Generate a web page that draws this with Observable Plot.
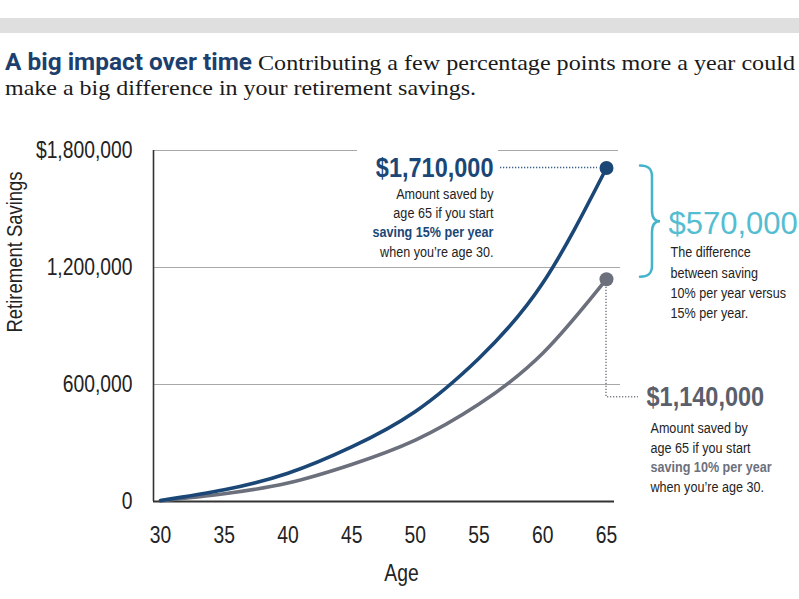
<!DOCTYPE html>
<html><head><meta charset="utf-8">
<script src="https://cdn.jsdelivr.net/npm/d3@7"></script>
<script src="https://cdn.jsdelivr.net/npm/@observablehq/plot@0.6"></script>
<style>
html,body{margin:0;padding:0;background:#fff;width:799px;height:599px;overflow:hidden}
svg{display:block}
</style></head><body>
<svg id="header" width="799" height="120"></svg>
<div id="chart"></div>
<script>
// ---- data ----
const ages = [30, 35, 40, 45, 50, 55, 60, 65];
const savings15 = [5000, 60000, 145000, 280000, 462000, 735000, 1120000, 1710000];
const savings10 = [3000, 40000, 95000, 190000, 315000, 500000, 760000, 1140000];
const xTicks = [30, 35, 40, 45, 50, 55, 60, 65];
const yTicks = [0, 600000, 1200000, 1800000];
const yTickLabels = ["0", "600,000", "1,200,000", "$1,800,000"];
const final15 = 1710000, final10 = 1140000, difference = 570000;
const titleBold = "A big impact over time";
const titleLine1 = "Contributing a few percentage points more a year could";
const titleLine2 = "make a big difference in your retirement savings.";
const hiNotes = ["Amount saved by", "age 65 if you start", "saving 15% per year", "when you\u2019re age 30."];
const loNotes = ["Amount saved by", "age 65 if you start", "saving 10% per year", "when you\u2019re age 30."];
const diffNotes = ["The difference", "between saving", "10% per year versus", "15% per year."];

const NAVY = "#1b4777", GRAY = "#6c707c", CYAN = "#44b4cb", TXT = "#232323";

// ---- header ----
const hdr = d3.select("#header");
hdr.append("rect").attr("x", 0).attr("y", 18).attr("width", 799).attr("height", 15).attr("fill", "#dfdfdf");
hdr.append("text").attr("x", 5).attr("y", 70).attr("font-family", "Roboto, 'Liberation Sans', sans-serif")
  .attr("font-weight", 700).attr("font-size", 23).attr("fill", "#1d3f6e")
  .attr("textLength", 247).attr("lengthAdjust", "spacingAndGlyphs").text(titleBold);
hdr.append("text").attr("x", 258).attr("y", 70).attr("font-family", "'Liberation Serif', 'DejaVu Serif', serif")
  .attr("font-size", 22).attr("fill", "#1a1a1a")
  .attr("textLength", 537).attr("lengthAdjust", "spacingAndGlyphs").text(titleLine1);
hdr.append("text").attr("x", 5).attr("y", 95).attr("font-family", "'Liberation Serif', 'DejaVu Serif', serif")
  .attr("font-size", 22).attr("fill", "#1a1a1a")
  .attr("textLength", 471).attr("lengthAdjust", "spacingAndGlyphs").text(titleLine2);

// ---- chart ----
const rows15 = ages.map((a, i) => ({age: a, value: savings15[i]}));
const rows10 = ages.map((a, i) => ({age: a, value: savings10[i]}));
const ends = [{age: 65, value: final15, c: NAVY}, {age: 65, value: final10, c: GRAY}];
const X0 = 29.45, X1 = 66.1;
const topGrid = [{x1: X0, x2: 45.46}, {x1: 56.53, x2: 65.94}];
const mid = (final15 + final10) / 2;

function decorations(index, {x, y}) {
  const g = d3.create("svg:g").attr("fill", "none");
  const X = x(65), yH = y(final15), yL = y(final10);
  g.append("path").attr("d", `M${X - 106},${yH}H${X - 9}`)
    .attr("stroke", "#3a5f8a").attr("stroke-width", 1.6).attr("stroke-dasharray", "1.3,1.7");
  g.append("path").attr("d", `M${X},${yL + 8}V${yL + 118}H${X + 32}`)
    .attr("stroke", "#80848e").attr("stroke-width", 1.6).attr("stroke-dasharray", "1.3,1.7");
  const top = yH - 2, bot = yL - 2, m = (top + bot) / 2, L = X + 34, S = X + 46, T = X + 54;
  g.append("path").attr("d",
    `M${L},${top}C${L + 8},${top} ${S},${top + 3} ${S},${top + 11}L${S},${m - 11}` +
    `C${S},${m - 4} ${S + 3},${m} ${T},${m}C${S + 3},${m} ${S},${m + 4} ${S},${m + 11}` +
    `L${S},${bot - 11}C${S},${bot - 3} ${L + 8},${bot} ${L},${bot}`)
    .attr("stroke", CYAN).attr("stroke-width", 2.5).attr("stroke-linecap", "round");
  return g.node();
}

const noteMarks = [];
hiNotes.forEach((t, i) => noteMarks.push(Plot.text([t], {
  x: () => 65, y: () => final15, text: d => d, dx: -113, dy: 26 + i * 19.3,
  textAnchor: "end", lineAnchor: "middle", fontSize: 15,
  fontWeight: i === 2 ? 700 : 400, fill: i === 2 ? NAVY : TXT
})));
loNotes.forEach((t, i) => noteMarks.push(Plot.text([t], {
  x: () => 65, y: () => final10, text: d => d, dx: 44, dy: 149 + i * 19.6,
  textAnchor: "start", lineAnchor: "middle", fontSize: 15,
  fontWeight: i === 2 ? 700 : 400, fill: i === 2 ? GRAY : TXT
})));
diffNotes.forEach((t, i) => noteMarks.push(Plot.text([t], {
  x: () => 65, y: () => mid, text: d => d, dx: 64, dy: 29 + i * 20.3,
  textAnchor: "start", lineAnchor: "middle", fontSize: 15, fill: TXT
})));

const fmtMoney = d => "$" + d3.format(",")(d);

const chart = Plot.plot({
  width: 799, height: 479,
  marginTop: 30, marginBottom: 98, marginLeft: 153, marginRight: 179,
  style: {fontFamily: "'Liberation Sans', Arial, sans-serif", fontSize: "15px", color: TXT, background: "white", overflow: "visible"},
  x: {domain: [X0, X1]},
  y: {domain: [0, 1800000]},
  marks: [
    Plot.ruleY([600000, 1200000], {stroke: "#a8a8a8", strokeWidth: 1.2}),
    Plot.ruleY(topGrid, {y: () => 1800000, x1: "x1", x2: "x2", stroke: "#a8a8a8", strokeWidth: 1.2}),
    Plot.ruleX([X0], {y1: 0, y2: 1800000, stroke: "#333", strokeWidth: 1.6}),
    Plot.ruleY([0], {x1: X0, x2: 65.63, stroke: "#333", strokeWidth: 2}),
    Plot.axisX(xTicks, {tickSize: 0, tickPadding: 25, fontSize: 23, label: null}),
    Plot.axisY(yTicks, {tickSize: 0, tickPadding: 21, fontSize: 23, label: null,
      tickFormat: d => yTickLabels[yTicks.indexOf(d)]}),
    Plot.text(["Age"], {frameAnchor: "bottom", dx: 14.5, dy: 72, fontSize: 23, lineAnchor: "middle"}),
    Plot.text(["Retirement Savings"], {frameAnchor: "left", rotate: -90, dx: -139, dy: 6.5, fontSize: 22, lineAnchor: "middle"}),
    decorations,
    Plot.line(rows10, {x: "age", y: "value", stroke: GRAY, strokeWidth: 3.6, curve: "natural"}),
    Plot.line(rows15, {x: "age", y: "value", stroke: NAVY, strokeWidth: 3.6, curve: "natural"}),
    Plot.dot(ends, {x: "age", y: "value", r: 7, fill: "c", stroke: "none"}),
    Plot.text([final15], {x: () => 65, y: d => d, text: fmtMoney, dx: -113, textAnchor: "end", lineAnchor: "middle",
      fontSize: 28, fontWeight: 700, fill: NAVY}),
    Plot.text([final10], {x: () => 65, y: d => d, text: fmtMoney, dx: 40, dy: 118, textAnchor: "start", lineAnchor: "middle",
      fontSize: 28, fontWeight: 700, fill: "#5b5f6c"}),
    Plot.text([difference], {x: () => 65, y: () => mid, text: fmtMoney, dx: 62, textAnchor: "start", lineAnchor: "middle",
      fontSize: 31, fill: "#55bdd1"}),
    ...noteMarks
  ]
});
document.getElementById("chart").appendChild(chart);

// condense sans text (the original uses a condensed face)
chart.querySelectorAll("text").forEach(t => {
  const fs = parseFloat(getComputedStyle(t).fontSize);
  const s = fs >= 30 ? 1 : 0.84;
  if (s === 1) return;
  const tr = t.getAttribute("transform");
  if (tr) t.setAttribute("transform", tr + ` scale(${s},1)`);
  else {
    const x = parseFloat(t.getAttribute("x")) || 0, y = parseFloat(t.getAttribute("y")) || 0;
    t.removeAttribute("x"); t.removeAttribute("y");
    t.setAttribute("transform", `translate(${x},${y}) scale(${s},1)`);
  }
});
</script>
</body></html>
